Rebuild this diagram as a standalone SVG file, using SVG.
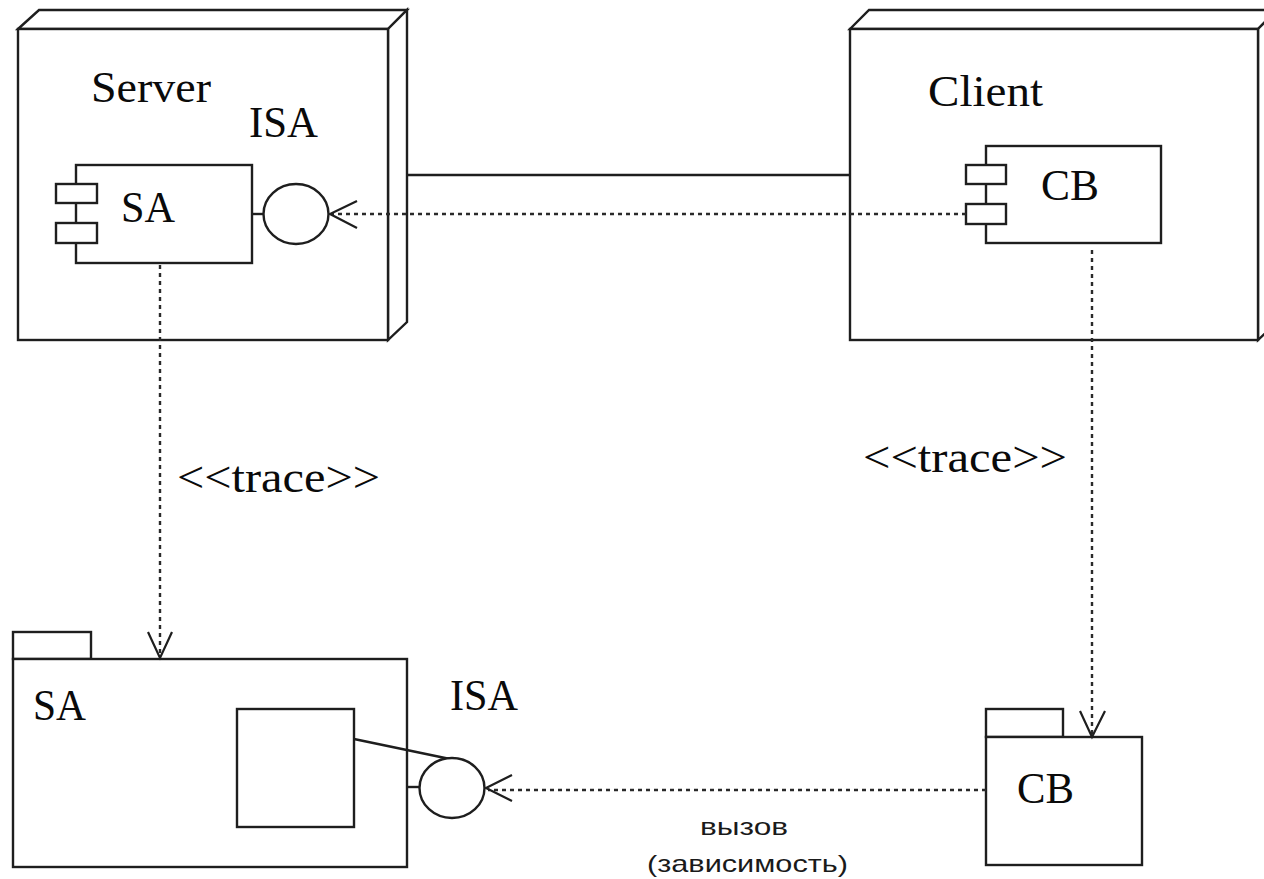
<svg xmlns="http://www.w3.org/2000/svg" width="1264" height="879" viewBox="0 0 1264 879">
  <style>
    .shape { fill: #ffffff; stroke: #1e1e1e; stroke-width: 2.4; stroke-linejoin: miter; }
    .line { fill: none; stroke: #1e1e1e; stroke-width: 2.4; }
    .dash { fill: none; stroke: #2a2a2a; stroke-width: 2.4; stroke-dasharray: 4 4; }
    .head { fill: none; stroke: #1e1e1e; stroke-width: 2.2; }
    .lbl { font-family: "Liberation Serif", "Times New Roman", serif; font-size: 45px; fill: #0a0a0a; }
    .note { font-family: "Liberation Sans", Arial, sans-serif; font-size: 24px; fill: #1a1a1a; }
  </style>
  <rect width="1264" height="879" fill="#ffffff"/>

  <!-- Server node -->
  <g id="server">
    <polygon class="shape" points="18,29 39,10 407,10 388,29"/>
    <polygon class="shape" points="388,29 407,10 407,322 388,340"/>
    <rect class="shape" x="18" y="29" width="370" height="311"/>
    <text class="lbl" x="91" y="102" textLength="120" lengthAdjust="spacingAndGlyphs">Server</text>
    <text class="lbl" x="249" y="137" textLength="69" lengthAdjust="spacingAndGlyphs">ISA</text>
  </g>

  <!-- SA component with provided interface ISA -->
  <g id="sa-component">
    <rect class="shape" x="76" y="165" width="176" height="98"/>
    <rect class="shape" x="56" y="184" width="41" height="19"/>
    <rect class="shape" x="56" y="223" width="41" height="20"/>
    <text class="lbl" x="121" y="222" textLength="54" lengthAdjust="spacingAndGlyphs">SA</text>
    <line class="line" x1="252" y1="214" x2="264" y2="214"/>
    <ellipse class="shape" cx="296" cy="214" rx="32.5" ry="30"/>
  </g>

  <!-- Client node -->
  <g id="client">
    <polygon class="shape" points="850,29 869,10 1277,10 1258,29"/>
    <polygon class="shape" points="1258,29 1277,10 1277,322 1258,340"/>
    <rect class="shape" x="850" y="29" width="408" height="311"/>
    <text class="lbl" x="928" y="106" textLength="115" lengthAdjust="spacingAndGlyphs">Client</text>
  </g>

  <!-- CB component -->
  <g id="cb-component">
    <rect class="shape" x="986" y="146" width="175" height="97"/>
    <rect class="shape" x="966" y="165" width="40" height="19"/>
    <rect class="shape" x="966" y="204" width="40" height="20"/>
    <text class="lbl" x="1041" y="200" textLength="58" lengthAdjust="spacingAndGlyphs">CB</text>
  </g>

  <!-- SA package -->
  <g id="sa-package">
    <rect class="shape" x="13" y="632" width="78" height="27"/>
    <rect class="shape" x="13" y="659" width="394" height="208"/>
    <text class="lbl" x="33" y="720" textLength="53" lengthAdjust="spacingAndGlyphs">SA</text>
    <rect class="shape" x="237" y="709" width="117" height="118"/>
    <line class="line" x1="354" y1="739" x2="450" y2="759"/>
    <line class="line" x1="407" y1="787" x2="420" y2="787"/>
    <ellipse class="shape" cx="452" cy="788" rx="32.5" ry="30"/>
    <text class="lbl" x="450" y="710" textLength="68" lengthAdjust="spacingAndGlyphs">ISA</text>
  </g>

  <!-- CB package -->
  <g id="cb-package">
    <rect class="shape" x="986" y="709" width="77" height="28"/>
    <rect class="shape" x="986" y="737" width="156" height="128"/>
    <text class="lbl" x="1017" y="803" textLength="57" lengthAdjust="spacingAndGlyphs">CB</text>
  </g>

  <!-- Connectors -->
  <g id="connectors">
    <!-- communication path between nodes -->
    <line class="line" x1="407" y1="175" x2="850" y2="175"/>

    <!-- CB uses ISA -->
    <line class="dash" x1="966" y1="214" x2="332" y2="214"/>
    <polyline class="head" points="357,201 330,214 357,228"/>

    <!-- trace: SA component to SA package -->
    <line class="dash" x1="160" y1="265" x2="160" y2="656"/>
    <polyline class="head" points="148,632 160,658 172,632"/>
    <text class="lbl" x="177" y="492" textLength="203" lengthAdjust="spacingAndGlyphs">&lt;&lt;trace&gt;&gt;</text>

    <!-- trace: CB component to CB package -->
    <line class="dash" x1="1092" y1="250" x2="1092" y2="735"/>
    <polyline class="head" points="1080,711 1092,737 1105,711"/>
    <text class="lbl" x="863" y="472" textLength="204" lengthAdjust="spacingAndGlyphs">&lt;&lt;trace&gt;&gt;</text>

    <!-- call dependency: CB package to ISA -->
    <line class="dash" x1="986" y1="790" x2="488" y2="790"/>
    <polyline class="head" points="512,775 486,788 512,801"/>
    <text class="note" x="700" y="835" textLength="88" lengthAdjust="spacingAndGlyphs">вызов</text>
    <text class="note" x="647" y="872" textLength="201" lengthAdjust="spacingAndGlyphs">(зависимость)</text>
  </g>
</svg>
